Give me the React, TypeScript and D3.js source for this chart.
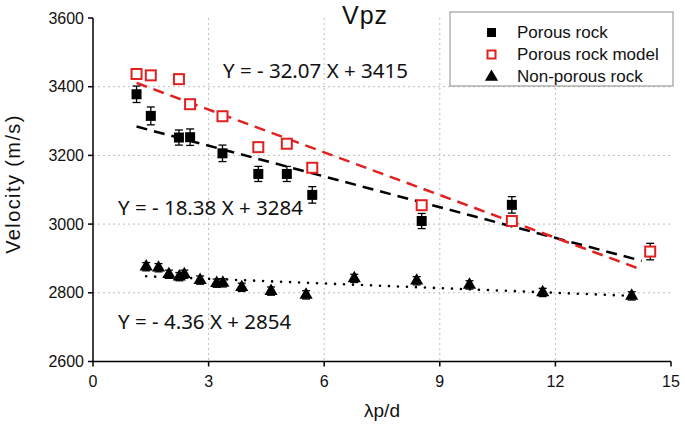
import React from "react";
import * as d3 from "d3";

// ---- Data ----
const porousX = [1.13, 1.5, 2.23, 2.52, 3.36, 4.29, 5.03, 5.69, 8.53, 10.87, 14.46];
const porousY = [3378, 3315, 3252, 3253, 3206, 3146, 3146, 3085, 3009, 3056, 2920];
const porousErr = [24, 26, 22, 24, 24, 22, 22, 24, 22, 24, 24];

const modelX = [1.13, 1.5, 2.23, 2.52, 3.36, 4.29, 5.03, 5.69, 8.53, 10.87, 14.46];
const modelY = [3437, 3433, 3422, 3349, 3314, 3224, 3234, 3164, 3055, 3009, 2920];

const nonPorousX = [1.38, 1.7, 1.97, 2.24, 2.37, 2.78, 3.21, 3.37, 3.86, 4.62, 5.53, 6.78, 8.4, 9.77, 11.67, 13.98];
const nonPorousY = [2876, 2873, 2854, 2847, 2854, 2837, 2828, 2829, 2816, 2805, 2794, 2842, 2835, 2823, 2801, 2791];
const nonPorousErr = [12, 12, 12, 12, 12, 12, 12, 12, 12, 12, 12, 12, 12, 12, 12, 12];

const modelFit: [number, number][] = [[1.13, 3411], [14.15, 2871]];
const porousFit: [number, number][] = [[1.13, 3284], [14.24, 2893]];
const nonPorousFit: [number, number][] = [[1.38, 2848], [14.0, 2791]];

const xTicks = [0, 3, 6, 9, 12, 15];
const yTicks = [2600, 2800, 3000, 3200, 3400, 3600];
const xGrid = [3, 6, 9, 12];
const yGrid = [2800, 3000, 3200, 3400];

const legendLabels = ["Porous rock", "Porous rock model", "Non-porous rock"];
const equations = ["Y = - 32.07 X + 3415", "Y = - 18.38 X + 3284", "Y = - 4.36 X + 2854"];
const titleText = "Vpz";
const xLabel = "λp/d";
const yLabel = "Velocity (m/s)";

const W = 685;
const H = 428;

export default function App() {
  const x = d3.scaleLinear().domain([0, 15]).range([93, 671]);
  const y = d3.scaleLinear().domain([2600, 3600]).range([361.5, 18]);
  const line = d3
    .line<[number, number]>()
    .x((d) => x(d[0]))
    .y((d) => y(d[1]));

  const axisFont = "'Liberation Sans', Arial, sans-serif";
  const eqFont = "'Noto Sans', sans-serif";
  const red = "#e32020";

  const tri = d3.symbol().type(d3.symbolTriangle).size(75)() as string;

  const errBar = (cx: number, cy: number, e: number, key: string) => (
    <g key={key} stroke="#000" strokeWidth={1.3}>
      <line x1={x(cx)} x2={x(cx)} y1={y(cy - e)} y2={y(cy + e)} />
      <line x1={x(cx) - 4} x2={x(cx) + 4} y1={y(cy - e)} y2={y(cy - e)} />
      <line x1={x(cx) - 4} x2={x(cx) + 4} y1={y(cy + e)} y2={y(cy + e)} />
    </g>
  );

  return (
    <svg
      width={W}
      height={H}
      style={{ position: "absolute", left: 0, top: 0, background: "#fff" }}
    >
      {/* grid */}
      {xGrid.map((t) => (
        <line key={"gx" + t} x1={x(t)} x2={x(t)} y1={y(3600)} y2={y(2600)} stroke="#bdbdbd" strokeWidth={1} strokeDasharray="2,3" />
      ))}
      {yGrid.map((t) => (
        <line key={"gy" + t} x1={x(0)} x2={x(15)} y1={y(t)} y2={y(t)} stroke="#bdbdbd" strokeWidth={1} strokeDasharray="2,3" />
      ))}

      {/* axes */}
      <line x1={x(0)} x2={x(0)} y1={y(3600)} y2={y(2600)} stroke="#000" strokeWidth={1.5} />
      <line x1={x(0)} x2={x(15)} y1={y(2600)} y2={y(2600)} stroke="#000" strokeWidth={1.5} />
      {yTicks.map((t) => (
        <g key={"yt" + t}>
          <line x1={x(0) - 5} x2={x(0)} y1={y(t)} y2={y(t)} stroke="#000" strokeWidth={1.5} />
          <text x={x(0) - 9} y={y(t)} dy="0.35em" textAnchor="end" fontFamily={axisFont} fontSize={16} fill="#111">
            {t}
          </text>
        </g>
      ))}
      {xTicks.map((t) => (
        <g key={"xt" + t}>
          <line x1={x(t)} x2={x(t)} y1={y(2600)} y2={y(2600) + 5} stroke="#000" strokeWidth={1.5} />
          <text x={x(t)} y={387} textAnchor="middle" fontFamily={axisFont} fontSize={16} fill="#111">
            {t}
          </text>
        </g>
      ))}
      <text x={382} y={417} textAnchor="middle" fontFamily={axisFont} fontSize={19} fill="#111">
        {xLabel}
      </text>
      <text
        transform={`translate(20, 184) rotate(-90)`}
        textAnchor="middle"
        fontFamily={axisFont}
        fontSize={20}
        letterSpacing={1.4}
        fill="#111"
      >
        {yLabel}
      </text>

      {/* fit lines */}
      <path d={line(nonPorousFit) || ""} fill="none" stroke="#000" strokeWidth={2.6} strokeDasharray="0,9" strokeLinecap="round" />
      <path d={line(porousFit) || ""} fill="none" stroke="#000" strokeWidth={2.5} strokeDasharray="11,7" />
      <path d={line(modelFit) || ""} fill="none" stroke={red} strokeWidth={2.5} strokeDasharray="11,7" />

      {/* non-porous triangles */}
      {nonPorousX.map((v, i) => errBar(v, nonPorousY[i], nonPorousErr[i], "ne" + i))}
      {nonPorousX.map((v, i) => (
        <path key={"np" + i} d={tri} transform={`translate(${x(v)},${y(nonPorousY[i])})`} fill="#000" />
      ))}

      {/* porous squares */}
      {porousX.map((v, i) => errBar(v, porousY[i], porousErr[i], "pe" + i))}
      {porousX.map((v, i) => (
        <rect key={"p" + i} x={x(v) - 5} y={y(porousY[i]) - 5} width={10} height={10} fill="#000" />
      ))}

      {/* model squares */}
      {modelX.map((v, i) => (
        <rect key={"m" + i} x={x(v) - 5} y={y(modelY[i]) - 5} width={10} height={10} fill="#fff" stroke={red} strokeWidth={2} />
      ))}

      {/* equations */}
      <text x={223} y={78} fontFamily={eqFont} fontSize={20.5} fill="#111">{equations[0]}</text>
      <text x={118} y={215} fontFamily={eqFont} fontSize={20.5} fill="#111">{equations[1]}</text>
      <text x={118} y={329} fontFamily={eqFont} fontSize={20.5} fill="#111">{equations[2]}</text>

      {/* title */}
      <text x={342} y={24} fontFamily={axisFont} fontSize={25} letterSpacing={1} fill="#111">{titleText}</text>

      {/* legend */}
      <rect x={450} y={12} width={223} height={74} fill="#fff" stroke="#8a8a8a" strokeWidth={1} />
      <rect x={487} y={28} width={9} height={9} fill="#000" />
      <rect x={487.5} y={50.5} width={8} height={8} fill="#fff" stroke={red} strokeWidth={2} />
      <path d={tri} transform={`translate(491.5,77)`} fill="#000" />
      {legendLabels.map((s, i) => (
        <text key={"lg" + i} x={517} y={32 + i * 22} dy="0.35em" fontFamily={axisFont} fontSize={17} fill="#111">
          {s}
        </text>
      ))}
    </svg>
  );
}
